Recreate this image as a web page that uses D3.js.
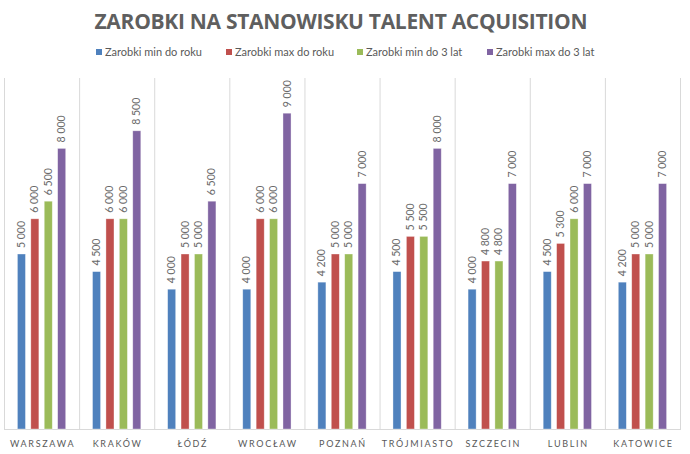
<!DOCTYPE html>
<html>
<head>
<meta charset="utf-8">
<script src="https://cdnjs.cloudflare.com/ajax/libs/d3/7.8.5/d3.min.js"></script>
<style>
  body { margin: 0; background: #fff; }
  text { font-family: Lato, "Open Sans", sans-serif; fill: #595959; }
</style>
</head>
<body>
<div id="chart"></div>
<script>
var cities = ["WARSZAWA", "KRAKÓW", "ŁÓDŹ", "WROCŁAW", "POZNAŃ", "TRÓJMIASTO", "SZCZECIN", "LUBLIN", "KATOWICE"];
var seriesNames = ["Zarobki min do roku", "Zarobki max do roku", "Zarobki min do 3 lat", "Zarobki max do 3 lat"];
var minRok = [5000, 4500, 4000, 4000, 4200, 4500, 4000, 4500, 4200];
var maxRok = [6000, 6000, 5000, 6000, 5000, 5500, 4800, 5300, 5000];
var min3 = [6500, 6000, 5000, 6000, 5000, 5500, 4800, 6000, 5000];
var max3 = [8000, 8500, 6500, 9000, 7000, 8000, 7000, 7000, 7000];
var colors = ["#4f81bd", "#c0504d", "#9bbb59", "#8064a2"];

function init() {
    var w = 690;
    var h = 454;
    var left = 4, right = 680, top = 78, bottom = 430;

    var allSeries = [minRok, maxRok, min3, max3];

    var svg = d3.select("#chart")
                .append("svg")
                .attr("width", w)
                .attr("height", h);

    var x0 = d3.scaleBand()
               .domain(cities)
               .range([left, right]);

    var x1 = d3.scaleBand()
               .domain(d3.range(seriesNames.length))
               .range([0, x0.bandwidth()])
               .paddingInner(0.4)
               .paddingOuter(1.0);

    var y = d3.scaleLinear()
              .domain([0, 10000])
              .range([bottom, top]);

    // title
    svg.append("text")
       .attr("x", 341)
       .attr("y", 28.5)
       .attr("text-anchor", "middle")
       .attr("textLength", 493)
       .attr("lengthAdjust", "spacing")
       .style("font-family", "'Open Sans', sans-serif")
       .style("font-weight", "bold")
       .style("font-size", "21px")
       .style("fill", "#5f5f5f")
       .text("ZAROBKI NA STANOWISKU TALENT ACQUISITION");

    // legend
    var legendX = [96, 226, 357, 487];
    var legend = svg.selectAll(".legend")
                    .data(seriesNames)
                    .enter()
                    .append("g")
                    .attr("class", "legend")
                    .attr("transform", function(d, i) {
                        return "translate(" + legendX[i] + ",52)";
                    });
    legend.append("rect")
          .attr("x", 0)
          .attr("y", -3)
          .attr("width", 6)
          .attr("height", 6)
          .attr("fill", function(d, i) { return colors[i]; });
    legend.append("text")
          .attr("x", 9)
          .attr("y", 4)
          .style("font-size", "11px")
          .text(function(d) { return d; });

    // category separators
    var sep = cities.map(function(c) { return x0(c); }).concat([right]);
    svg.selectAll(".sep")
       .data(sep)
       .enter()
       .append("line")
       .attr("class", "sep")
       .attr("x1", function(d) { return d + 0.5; })
       .attr("x2", function(d) { return d + 0.5; })
       .attr("y1", top)
       .attr("y2", bottom)
       .attr("stroke", "#d9d9d9")
       .attr("stroke-width", 1);

    svg.append("line")
       .attr("x1", left)
       .attr("x2", right + 1)
       .attr("y1", bottom - 0.5)
       .attr("y2", bottom - 0.5)
       .attr("stroke", "#d9d9d9");

    var groups = svg.selectAll(".city")
                    .data(cities)
                    .enter()
                    .append("g")
                    .attr("class", "city")
                    .attr("transform", function(d) {
                        return "translate(" + x0(d) + ",0)";
                    });

    groups.selectAll("rect")
          .data(function(d, ci) {
              return allSeries.map(function(s, si) { return { s: si, v: s[ci] }; });
          })
          .enter()
          .append("rect")
          .attr("x", function(d) { return x1(d.s); })
          .attr("y", function(d) { return y(d.v); })
          .attr("width", x1.bandwidth())
          .attr("height", function(d) { return y(0) - y(d.v) - 1; })
          .attr("fill", function(d) { return colors[d.s]; })
          .attr("stroke", "#ffffff")
          .attr("stroke-opacity", 0.5)
          .attr("stroke-width", 0.7);

    var fmt = function(v) {
        return d3.format(",")(v).replace(/,/g, " ");
    };

    groups.selectAll(".lbl")
          .data(function(d, ci) {
              return allSeries.map(function(s, si) { return { s: si, v: s[ci] }; });
          })
          .enter()
          .append("text")
          .attr("class", "lbl")
          .attr("transform", function(d) {
              var cx = x1(d.s) + x1.bandwidth() / 2 + 3.5;
              return "translate(" + cx + "," + (y(d.v) - 6) + ") rotate(-90)";
          })
          .style("font-size", "10.5px")
          .style("fill", "#6a6a6a")
          .text(function(d) { return fmt(d.v); });

    // category labels
    svg.selectAll(".cat")
       .data(cities)
       .enter()
       .append("text")
       .attr("class", "cat")
       .attr("x", function(d) { return x0(d) + x0.bandwidth() / 2 + 1; })
       .attr("y", 446.5)
       .attr("text-anchor", "middle")
       .style("font-size", "9px")
       .style("letter-spacing", "1.7px")
       .text(function(d) { return d; });
}

window.onload = init;
</script>
</body>
</html>
